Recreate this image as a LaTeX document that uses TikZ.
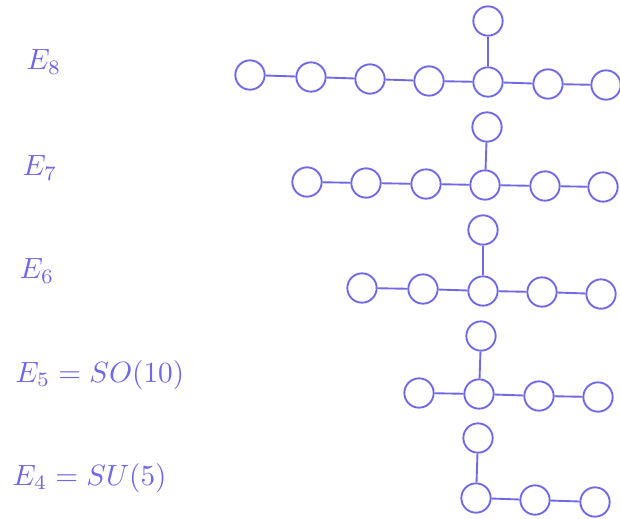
\documentclass[tikz,border=0pt]{standalone}
\usepackage{amsmath}
\usepackage{tikz}
\usepackage{xcolor}

\definecolor{dynkin}{RGB}{112,104,228}

\begin{document}
\begin{tikzpicture}[x=0.03cm, y=-0.03cm,
    dot/.style={circle, draw=dynkin, line width=1.6pt, fill=white, inner sep=0pt, minimum size=0.88cm},
    lbl/.style={anchor=west, text=dynkin, inner sep=0pt, scale=2.5}]
  \useasboundingbox (0,0) rectangle (620,518);

  % E8
  \node[lbl] (l8) at (26,62) {$E_8$};
  \node[dot] (a8) at (250,75) {};
  \node[dot] (b8) at (311,77) {};
  \node[dot] (c8) at (370,79) {};
  \node[dot] (d8) at (429,81) {};
  \node[dot] (e8) at (488,82) {};
  \node[dot] (f8) at (548,84) {};
  \node[dot] (g8) at (606,85) {};
  \node[dot] (h8) at (488,21) {};

  \draw[dynkin, line width=1.6pt] (a8) -- (b8);
  \draw[dynkin, line width=1.6pt] (b8) -- (c8);
  \draw[dynkin, line width=1.6pt] (c8) -- (d8);
  \draw[dynkin, line width=1.6pt] (d8) -- (e8);
  \draw[dynkin, line width=1.6pt] (e8) -- (f8);
  \draw[dynkin, line width=1.6pt] (f8) -- (g8);
  \draw[dynkin, line width=1.6pt] (e8) -- (h8);

  % E7
  \node[lbl] (l7) at (22,168) {$E_7$};
  \node[dot] (a7) at (307,182) {};
  \node[dot] (b7) at (366,183) {};
  \node[dot] (c7) at (426,184) {};
  \node[dot] (d7) at (485,185) {};
  \node[dot] (e7) at (545,186) {};
  \node[dot] (f7) at (603,187) {};
  \node[dot] (g7) at (487,127) {};

  \draw[dynkin, line width=1.6pt] (a7) -- (b7);
  \draw[dynkin, line width=1.6pt] (b7) -- (c7);
  \draw[dynkin, line width=1.6pt] (c7) -- (d7);
  \draw[dynkin, line width=1.6pt] (d7) -- (e7);
  \draw[dynkin, line width=1.6pt] (e7) -- (f7);
  \draw[dynkin, line width=1.6pt] (d7) -- (g7);

  % E6
  \node[lbl] (l6) at (19,271) {$E_6$};
  \node[dot] (a6) at (362,288) {};
  \node[dot] (b6) at (423,289) {};
  \node[dot] (c6) at (483,291) {};
  \node[dot] (d6) at (542,292) {};
  \node[dot] (e6) at (601,294) {};
  \node[dot] (f6) at (483,230) {};

  \draw[dynkin, line width=1.6pt] (a6) -- (b6);
  \draw[dynkin, line width=1.6pt] (b6) -- (c6);
  \draw[dynkin, line width=1.6pt] (c6) -- (d6);
  \draw[dynkin, line width=1.6pt] (d6) -- (e6);
  \draw[dynkin, line width=1.6pt] (c6) -- (f6);

  % E5 = SO(10)
  \node[lbl] (l5) at (15,375) {$E_5 = SO(10)$};
  \node[dot] (a5) at (419,393) {};
  \node[dot] (b5) at (479,394) {};
  \node[dot] (c5) at (539,396) {};
  \node[dot] (d5) at (598,397) {};
  \node[dot] (e5) at (481,336) {};

  \draw[dynkin, line width=1.6pt] (a5) -- (b5);
  \draw[dynkin, line width=1.6pt] (b5) -- (c5);
  \draw[dynkin, line width=1.6pt] (c5) -- (d5);
  \draw[dynkin, line width=1.6pt] (b5) -- (e5);

  % E4 = SU(5)
  \node[lbl] (l4) at (12,478) {$E_4 = SU(5)$};
  \node[dot] (a4) at (476,498) {};
  \node[dot] (b4) at (535,500) {};
  \node[dot] (c4) at (595,502) {};
  \node[dot] (d4) at (478,438) {};

  \draw[dynkin, line width=1.6pt] (a4) -- (b4);
  \draw[dynkin, line width=1.6pt] (b4) -- (c4);
  \draw[dynkin, line width=1.6pt] (a4) -- (d4);

\end{tikzpicture}
\end{document}
